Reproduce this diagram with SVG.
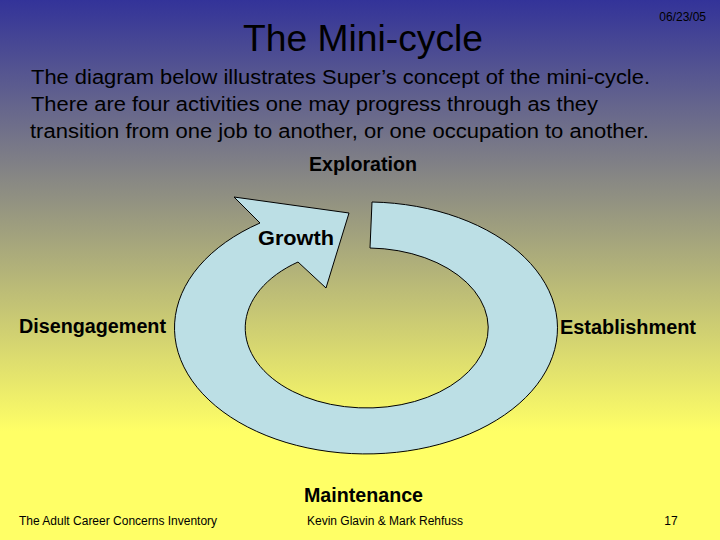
<svg xmlns="http://www.w3.org/2000/svg" width="720" height="540" viewBox="0 0 720 540">
<defs>
<linearGradient id="bg" x1="0" y1="0" x2="0" y2="1">
<stop offset="0" stop-color="#333399"/>
<stop offset="0.8" stop-color="#FFFF66"/>
<stop offset="1" stop-color="#FFFF66"/>
</linearGradient>
<style>
text{font-family:"Liberation Sans",Arial,sans-serif;fill:#000}
.lbl{font-size:20px;font-weight:bold}
.body{font-size:20px}
.foot{font-size:12px}
.shape{fill:#BCDFE5;stroke:#000;stroke-width:1}
</style>
</defs>
<rect width="720" height="540" fill="url(#bg)"/>
<text x="243" y="51" font-size="36" textLength="240" lengthAdjust="spacingAndGlyphs">The Mini-cycle</text>
<text x="706" y="21" font-size="12" text-anchor="end">06/23/05</text>
<text class="body" x="31" y="84" textLength="619" lengthAdjust="spacingAndGlyphs">The diagram below illustrates Super’s concept of the mini-cycle.</text>
<text class="body" x="31" y="111" textLength="567" lengthAdjust="spacingAndGlyphs">There are four activities one may progress through as they</text>
<text class="body" x="30" y="138" textLength="619" lengthAdjust="spacingAndGlyphs">transition from one job to another, or one occupation to another.</text>
<g id="connectors">
<path class="shape" d="M 372 202 A 191.5 126 0 1 1 260 223 L 234 197 L 349 213 L 326 288 L 298 262 A 121.5 80 0 1 0 370 248 Z"/>
</g>
<g id="exploration"><text class="lbl" x="309" y="171" textLength="108" lengthAdjust="spacingAndGlyphs">Exploration</text></g>
<g id="growth"><text class="lbl" x="258" y="245" textLength="76" lengthAdjust="spacingAndGlyphs">Growth</text></g>
<g id="disengagement"><text class="lbl" x="19" y="333" textLength="147" lengthAdjust="spacingAndGlyphs">Disengagement</text></g>
<g id="establishment"><text class="lbl" x="560" y="334" textLength="136" lengthAdjust="spacingAndGlyphs">Establishment</text></g>
<g id="maintenance"><text class="lbl" x="304" y="502" textLength="119" lengthAdjust="spacingAndGlyphs">Maintenance</text></g>
<text class="foot" x="19" y="525">The Adult Career Concerns Inventory</text>
<text class="foot" x="385" y="525" text-anchor="middle">Kevin Glavin &amp; Mark Rehfuss</text>
<text class="foot" x="671" y="525" text-anchor="middle">17</text>
</svg>
